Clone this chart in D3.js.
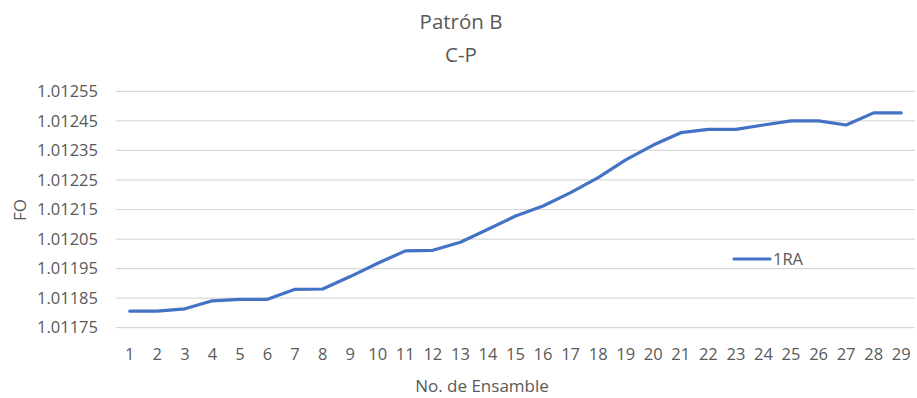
<!DOCTYPE html>
<html>
<head>
<meta charset="utf-8">
<script src="https://cdn.jsdelivr.net/npm/d3@7"></script>
<style>
  html, body { margin: 0; padding: 0; background: #fff; }
  svg { display: block; font-family: "Open Sans", sans-serif; }
</style>
</head>
<body>
<svg id="chart" width="917" height="398"></svg>
<script>
// Ensemble numbers and objective-function values for series 1RA
const ensembles = d3.range(1, 30);
const foValues = [
  1.011806, 1.011806, 1.011814, 1.011841, 1.011846, 1.011846, 1.011880, 1.011881,
  1.011923, 1.011968, 1.012010, 1.012012, 1.012039, 1.012083, 1.012128, 1.012162,
  1.012207, 1.012258, 1.012318, 1.012368, 1.012410, 1.012421, 1.012421, 1.012436,
  1.012450, 1.012450, 1.012436, 1.012477, 1.012477
];
const yTicks = [1.01175, 1.01185, 1.01195, 1.01205, 1.01215, 1.01225, 1.01235, 1.01245, 1.01255];
const titleLines = ["Patrón B", "C-P"];
const seriesName = "1RA";
const xTitle = "No. de Ensamble";
const yTitle = "FO";

const svg = d3.select("#chart");
const textColor = "#595959";
const lineColor = "#4472C4";
const gridColor = "#d9d9d9";

const x = d3.scaleBand().domain(ensembles).range([116, 915]);
const y = d3.scaleLinear().domain([1.01175, 1.01255]).range([327.7, 91.3]);

// Horizontal gridlines
svg.append("g")
  .selectAll("line")
  .data(yTicks)
  .join("line")
  .attr("x1", 116).attr("x2", 915)
  .attr("y1", d => y(d)).attr("y2", d => y(d))
  .attr("stroke", gridColor).attr("stroke-width", 1.2);

// Y axis labels
const yAxis = svg.append("g")
  .attr("transform", "translate(112,0)")
  .call(d3.axisLeft(y).tickValues(yTicks).tickFormat(d3.format(".5f")).tickSize(0).tickPadding(14));
yAxis.select(".domain").remove();
yAxis.selectAll("text")
  .attr("fill", textColor)
  .style("font-size", "16.5px")
  .style("font-family", "'Open Sans', sans-serif");

// X axis labels
const xAxis = svg.append("g")
  .attr("transform", "translate(0,348)")
  .call(d3.axisBottom(x).tickSize(0).tickPadding(0));
xAxis.select(".domain").remove();
xAxis.selectAll("text")
  .attr("fill", textColor)
  .style("font-size", "16.5px")
  .style("font-family", "'Open Sans', sans-serif");

// Series line
const line = d3.line()
  .x((d, i) => x(ensembles[i]) + x.bandwidth() / 2)
  .y(d => y(d));
svg.append("path")
  .datum(foValues)
  .attr("d", line)
  .attr("fill", "none")
  .attr("stroke", lineColor)
  .attr("stroke-width", 3.2)
  .attr("stroke-linejoin", "round")
  .attr("stroke-linecap", "round");

// Legend
const legend = svg.append("g").attr("transform", "translate(734,259)");
legend.append("line")
  .attr("x1", 0).attr("x2", 36).attr("y1", 0).attr("y2", 0)
  .attr("stroke", lineColor).attr("stroke-width", 3.2).attr("stroke-linecap", "round");
legend.append("text")
  .attr("x", 39).attr("y", 0).attr("dy", "0.36em")
  .attr("fill", textColor).style("font-size", "16.5px")
  .text(seriesName);

// Titles
svg.append("g").selectAll("text")
  .data(titleLines)
  .join("text")
  .attr("x", 461).attr("y", (d, i) => 29 + i * 33)
  .attr("text-anchor", "middle")
  .attr("fill", textColor)
  .style("font-size", "20.5px")
  .text(d => d);

svg.append("text")
  .attr("x", 482).attr("y", 392)
  .attr("text-anchor", "middle")
  .attr("fill", textColor)
  .style("font-size", "17px")
  .text(xTitle);

svg.append("text")
  .attr("transform", "translate(26,210) rotate(-90)")
  .attr("text-anchor", "middle")
  .attr("fill", textColor)
  .style("font-size", "17px")
  .text(yTitle);
</script>
</body>
</html>
